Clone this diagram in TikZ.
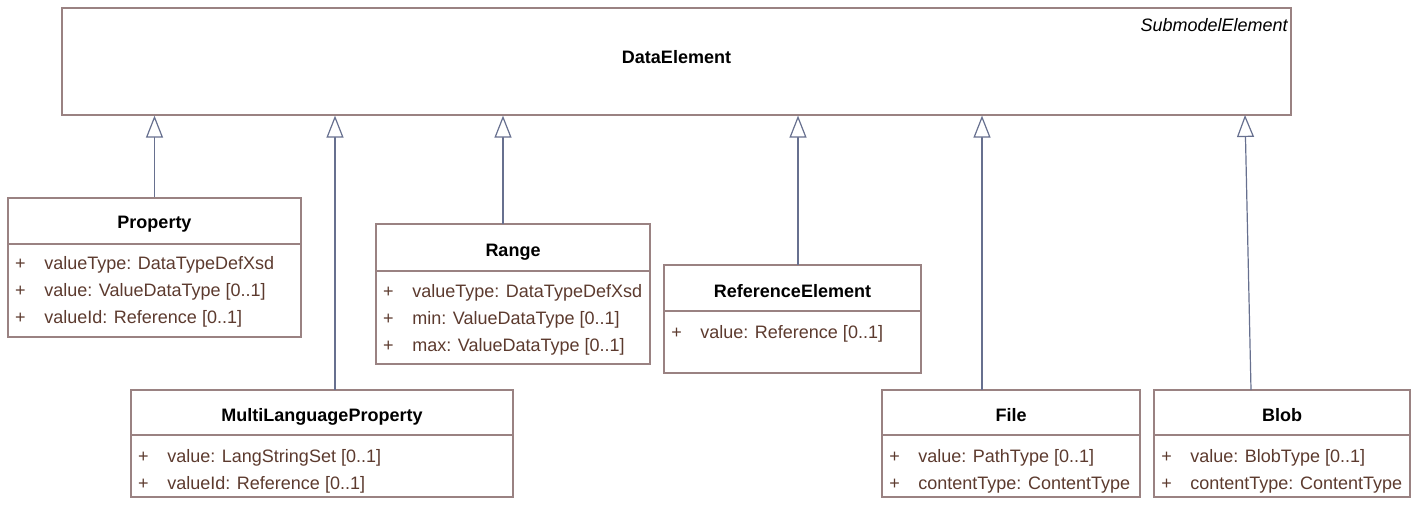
\documentclass[tikz,border=0pt]{standalone}
\usepackage{fontspec}
\setmainfont{Liberation Sans}
\usetikzlibrary{arrows.meta, fit}
\definecolor{umlframe}{HTML}{9A8282}
\definecolor{umltext}{HTML}{5C3A2E}
\definecolor{umllink}{HTML}{67708F}

\begin{document}
\begin{tikzpicture}[
        x=0.75pt,
        y=-0.75pt,
        font=\fontsize{13.5}{16}\selectfont,
        classbox/.style={
            draw=umlframe,
            line width=0.9pt,
            inner sep=0pt
        },
        classline/.style={
            draw=umlframe,
            line width=0.9pt
        },
        classname/.style={
            font=\fontsize{13.5}{16}\selectfont\bfseries,
            anchor=base,
            inner sep=0pt
        },
        attrplus/.style={
            text=umltext,
            anchor=base,
            inner sep=0pt
        },
        attrtext/.style={
            text=umltext,
            anchor=base west,
            inner sep=0pt
        },
        generalization/.style={
            draw=umllink,
            line width=0.9pt,
            -{Triangle[open, fill=white, length=16.5pt, width=12.75pt]}
        }
    ]

        \useasboundingbox (0,0) rectangle (1424,512);

        % Abstrakte Oberklasse
        \node[classbox, fit={(62,8) (1291,115)}] (dataelement) {};
        \node[classname] (dataelement-name) at (676.5,63)
            {DataElement};
        \node[
            anchor=base east,
            inner sep=0pt,
            font=\fontsize{13.5}{16}\selectfont\itshape
        ] (dataelement-stereo) at (1288,31)
            {SubmodelElement};

        % Property
        \node[classbox, fit={(8,198) (301,337)}] (property) {};
        \draw[classline]
            (8,244) -- (301,244);
        \node[classname] (property-name) at (154.5,228) {Property};
        \node[attrplus] (property-p1) at (20.5,269) {+};
        \node[attrtext] (property-a1) at (44,269) {valueType: DataTypeDefXsd};
        \node[attrplus] (property-p2) at (20.5,296) {+};
        \node[attrtext] (property-a2) at (44,296) {value: ValueDataType [0..1]};
        \node[attrplus] (property-p3) at (20.5,323) {+};
        \node[attrtext] (property-a3) at (44,323) {valueId: Reference [0..1]};

        % MultiLanguageProperty
        \node[classbox, fit={(131,390) (513,497)}] (mlprop) {};
        \draw[classline]
            (131,435) -- (513,435);
        \node[classname] (mlprop-name) at (322,421) {MultiLanguageProperty};
        \node[attrplus] (mlprop-p1) at (143.5,462) {+};
        \node[attrtext] (mlprop-a1) at (167,462) {value: LangStringSet [0..1]};
        \node[attrplus] (mlprop-p2) at (143.5,489) {+};
        \node[attrtext] (mlprop-a2) at (167,489) {valueId: Reference [0..1]};

        % Range
        \node[classbox, fit={(376,224) (650,364)}] (range) {};
        \draw[classline]
            (376,271) -- (650,271);
        \node[classname] (range-name) at (513,256) {Range};
        \node[attrplus] (range-p1) at (388.5,297) {+};
        \node[attrtext] (range-a1) at (412,297) {valueType: DataTypeDefXsd};
        \node[attrplus] (range-p2) at (388.5,324) {+};
        \node[attrtext] (range-a2) at (412,324) {min: ValueDataType [0..1]};
        \node[attrplus] (range-p3) at (388.5,351) {+};
        \node[attrtext] (range-a3) at (412,351) {max: ValueDataType [0..1]};

        % ReferenceElement
        \node[classbox, fit={(664,265) (921,373)}] (refelem) {};
        \draw[classline]
            (664,311) -- (921,311);
        \node[classname] (refelem-name) at (792.5,297) {ReferenceElement};
        \node[attrplus] (refelem-p1) at (676.5,338) {+};
        \node[attrtext] (refelem-a1) at (700,338) {value: Reference [0..1]};

        % File
        \node[classbox, fit={(882,390) (1140,497)}] (file) {};
        \draw[classline]
            (882,435) -- (1140,435);
        \node[classname] (file-name) at (1011,421) {File};
        \node[attrplus] (file-p1) at (894.5,462) {+};
        \node[attrtext] (file-a1) at (918,462) {value: PathType [0..1]};
        \node[attrplus] (file-p2) at (894.5,489) {+};
        \node[attrtext] (file-a2) at (918,489) {contentType: ContentType};

        % Blob
        \node[classbox, fit={(1154,390) (1410,497)}] (blob) {};
        \draw[classline]
            (1154,435) -- (1410,435);
        \node[classname] (blob-name) at (1282,421) {Blob};
        \node[attrplus] (blob-p1) at (1166.5,462) {+};
        \node[attrtext] (blob-a1) at (1190,462) {value: BlobType [0..1]};
        \node[attrplus] (blob-p2) at (1166.5,489) {+};
        \node[attrtext] (blob-a2) at (1190,489) {contentType: ContentType};

        % Generalisierungen
        \coordinate (mlprop-up) at (335,390);
        \coordinate (range-up) at (503,224);
        \coordinate (refelem-up) at (798,265);
        \coordinate (file-up) at (982,390);
        \coordinate (blob-up) at (1251,390);
        \coordinate (blob-tip) at (1245,115);

        \draw[generalization]
            (property.north) -- (property.north |- dataelement.south);
        \draw[generalization]
            (mlprop-up) -- (mlprop-up |- dataelement.south);
        \draw[generalization]
            (range-up) -- (range-up |- dataelement.south);
        \draw[generalization]
            (refelem-up) -- (refelem-up |- dataelement.south);
        \draw[generalization]
            (file-up) -- (file-up |- dataelement.south);
        \draw[generalization]
            (blob-up) -- (blob-tip);

    \end{tikzpicture}
\end{document}
